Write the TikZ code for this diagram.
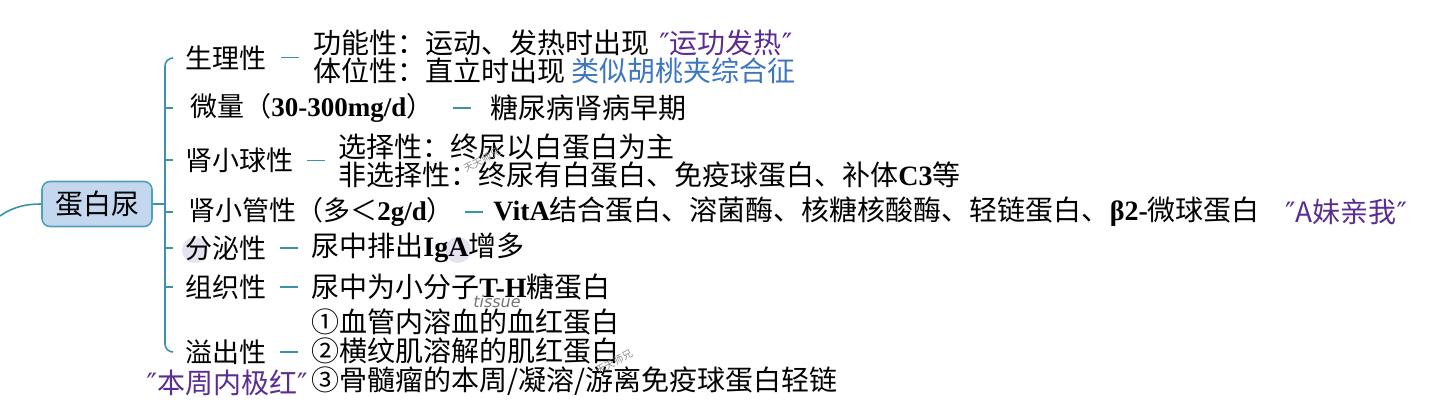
\documentclass[tikz,border=0pt]{standalone}
\usepackage{fontspec}
\usetikzlibrary{calc}
\setmainfont{Noto Sans CJK SC}
\newfontfamily\latf{Liberation Serif}
\newfontfamily\notef{DejaVu Sans}
\newcommand{\lb}[1]{{\latf\bfseries #1}}
\newcommand{\qm}{{\notef ″}}
\definecolor{linec}{HTML}{3A93A8}
\definecolor{boxfill}{HTML}{C3D8EF}
\definecolor{boxline}{HTML}{4FA0B8}
\definecolor{handc}{HTML}{5B2D91}
\definecolor{bluec}{HTML}{3D76C0}
\definecolor{markc}{HTML}{E6E2F2}

\begin{document}
\begin{tikzpicture}[x=0.5pt, y=-0.5pt,
    conn/.style={draw=linec, line width=0.8pt},
    cat/.style={anchor=west, inner sep=0pt, font=\fontsize{13.5}{16}\selectfont},
    det/.style={anchor=west, inner sep=0pt, align=left, font=\fontsize{14}{14}\selectfont},
    hand/.style={text=handc, font=\fontsize{14}{15}\selectfont},
    wmark/.style={text=black!45, font=\fontsize{5}{6}\selectfont, rotate=28}]
    \useasboundingbox (0,0) rectangle (1434,413);

    % Marks behind the text
    \fill[markc] (195,250) circle (13);
    \fill[markc] (458,250) circle (13);

    % Root
    \node[draw=boxline, fill=boxfill, line width=0.8pt, rounded corners=4pt,
          minimum width=55pt, minimum height=22.5pt, inner sep=0pt,
          font=\fontsize{14}{16}\selectfont] (hub) at (97,204) {蛋白尿};
    \coordinate (src) at (0,216);
    \draw[conn] (src) .. controls (14,206) and (28,204) .. (hub.west);

    % Categories
    \node[cat] (sl) at (185,58)  {生理性};
    \node[cat] (wl) at (190,108) {微量（\lb{30-300mg/d}）};
    \node[cat] (xq) at (185,160) {肾小球性};
    \node[cat] (xg) at (188,212) {肾小管性（多＜\lb{2g/d}）};
    \node[cat] (fm) at (185,248) {分泌性};
    \node[cat] (zz) at (185,287) {组织性};
    \node[cat] (yc) at (185,352) {溢出性};

    % Fork
    \coordinate (fork) at (165,204);
    \foreach \y/\n in {58/1,108/2,160/3,212/4,248/5,287/6,352/7}
        \coordinate (t\n) at (173,\y);
    \draw[conn] (hub.east) -- (fork);
    \draw[conn, rounded corners=4pt] (t1) -- (t1 -| fork) -- (t7 -| fork) -- (t7);
    \foreach \n in {2,...,6}
        \draw[conn] (t\n -| fork) -- (t\n);

    % Details
    \node[det, font=\fontsize{14}{13}\selectfont] (sl-d) at (313,57)
        {功能性：运动、发热时出现\hspace{5pt}{\color{handc}\fontsize{14}{13}\selectfont\qm 运功发热\qm}\\
         体位性：直立时出现 {\color{bluec}类似胡桃夹综合征}};
    \node[det] (wl-d) at (490,108) {糖尿病肾病早期};
    \node[det] (xq-d) at (338,161)
        {选择性：终尿以白蛋白为主\\
         非选择性：终尿有白蛋白、免疫球蛋白、补体\lb{C3}等};
    \node[det] (xg-d) at (493,212)
        {\lb{VitA}结合蛋白、溶菌酶、核糖核酸酶、轻链蛋白、\lb{β2-}微球蛋白};
    \node[det] (fm-d) at (311,248) {尿中排出\lb{IgA}增多};
    \node[det] (zz-d) at (311,287) {尿中为小分子\lb{T-H}糖蛋白};
    \node[det, font=\fontsize{14}{14.5}\selectfont] (yc-d) at (311,352)
        {①血管内溶血的血红蛋白\\
         ②横纹肌溶解的肌红蛋白\\
         ③骨髓瘤的本周/凝溶/游离免疫球蛋白轻链};

    % short links, centred in the gap
    \foreach \a in {sl,wl,xq,xg,fm,zz,yc}
        \draw[conn] ($(\a.east)!0.5!(\a-d.west)$) ++(-9,0) -- ++(18,0);

    % Notes
    \node[hand, anchor=west] (amei) at (1278,212) {\qm A妹亲我\qm};
    \node[hand] (bzhou) at (227,383) {\qm 本周内极红\qm};
    \node[text=black!55, font=\notef\itshape\fontsize{8}{9}\selectfont] (tissue) at (497,302) {tissue};
    \node[wmark] (wm1) at (482,160) {天天师兄};
    \node[wmark] (wm2) at (614,362) {天天师兄};
\end{tikzpicture}
\end{document}
